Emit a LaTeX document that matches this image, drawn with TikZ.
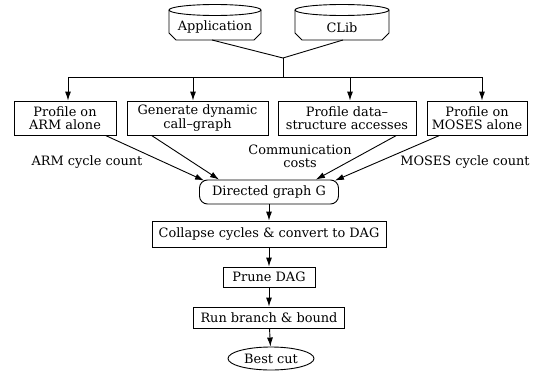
\documentclass[tikz,border=0pt]{standalone}
\usepackage{fontspec}
\setmainfont{DejaVu Serif}
\usetikzlibrary{arrows.meta,shapes.geometric,calc}
\begin{document}
\begin{tikzpicture}[x=1pt,y=-1pt,
  every node/.style={font=\fontsize{12.9}{13.5}\selectfont},
  box/.style={draw,rectangle,align=center,inner sep=0pt,line width=0.9pt},
  lbl/.style={align=center,inner sep=0pt},
  arr/.style={line width=0.9pt,-{Latex[length=9pt,width=6pt]}},
  ln/.style={line width=0.9pt},
  cyl/.style={line width=0.9pt}]
\useasboundingbox (0,0) rectangle (538,372);
% storage nodes
\node[lbl,minimum width=92pt,minimum height=23pt] (app) at (215,27) {Application};
\node[lbl,minimum width=94pt,minimum height=23pt] (clib) at (342,28) {CLib};
% cylinder outlines
\draw[cyl] (215,10) ellipse (46 and 5.5);
\draw[cyl] (169,10) -- (169,33) -- (176,40) -- (254,40) -- (261,33) -- (261,10);
\draw[cyl] (342,10) ellipse (47 and 5.5);
\draw[cyl] (295,10) -- (295,33) -- (302,40) -- (382,40) -- (389,33) -- (389,10);
% junction and bus
\coordinate (j) at (283,58);
\coordinate (b1) at (68,77);
\coordinate (b2) at (193,77);
\coordinate (b3) at (350,77);
\coordinate (b4) at (482,77);
\draw[ln] (212,40) -- (j) -- (343,40);
\draw[ln] (j) -- (j |- b1);
\draw[ln] (b1) -- (b4);
% profile boxes
\node[box,minimum width=102pt,minimum height=34pt] (p1) at (65,118) {Profile on\\ARM alone};
\node[box,minimum width=141pt,minimum height=34pt] (p2) at (197.5,118) {Generate dynamic\\call--graph};
\node[box,minimum width=138pt,minimum height=34pt] (p3) at (347,118) {Profile data--\\structure accesses};
\node[box,minimum width=100pt,minimum height=34pt] (p4) at (477,118) {Profile on\\MOSES alone};
\draw[arr] (b1) -- (b1 |- p1.north);
\draw[arr] (b2) -- (b2 |- p2.north);
\draw[arr] (b3) -- (b3 |- p3.north);
\draw[arr] (b4) -- (b4 |- p4.north);
% labels
\node[lbl] (l1) at (87,162) {ARM cycle count};
\node[lbl] (l2) at (300,156.5) {Communication\\costs};
\node[lbl] (l3) at (465,162) {MOSES cycle count};
% pipeline
\node[box,rounded corners=8pt,minimum width=139pt,minimum height=24pt] (dg) at (269,192) {Directed graph G};
\node[box,minimum width=234pt,minimum height=26pt] (col) at (269,234) {Collapse cycles \& convert to DAG};
\node[box,minimum width=92pt,minimum height=20pt] (pr) at (269,277) {Prune DAG};
\node[box,minimum width=151pt,minimum height=21pt] (run) at (269,317.5) {Run branch \& bound};
\node[draw,ellipse,line width=0.9pt,inner sep=0pt,minimum width=86pt,minimum height=23pt] (bc) at (271,358.5) {Best cut};
\draw[arr] ($(p1.south east)+(-11,0)$) -- ($(dg.north west)+(5,1)$);
\draw[arr] ($(p2.south west)+(25,0)$) -- ($(dg.north west)+(20,0)$);
\draw[arr] ($(p3.south east)+(-20,0)$) -- ($(dg.north east)+(-23,0)$);
\draw[arr] ($(p4.south west)+(13,0)$) -- ($(dg.north east)+(-4,1)$);
\draw[arr] (dg) -- (col);
\draw[arr] (col) -- (pr);
\draw[arr] (pr) -- (run);
\draw[arr] (run) -- (bc);
\end{tikzpicture}
\end{document}
